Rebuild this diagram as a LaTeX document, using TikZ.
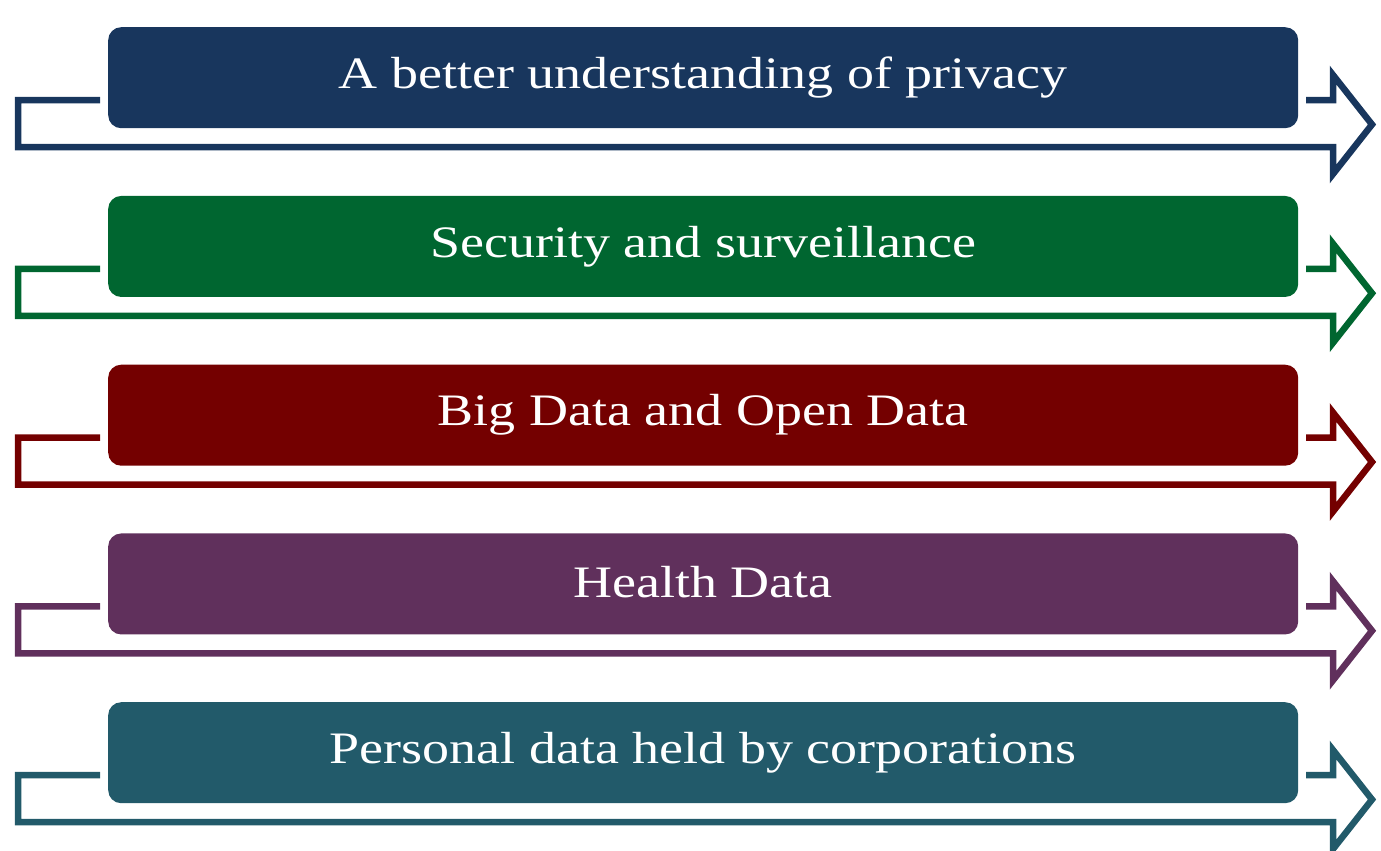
\documentclass[tikz,border=0pt]{standalone}
\usepackage{fontspec}
\setmainfont{Liberation Serif}
\definecolor{cA}{RGB}{24,54,93}
\definecolor{cB}{RGB}{0,102,48}
\definecolor{cC}{RGB}{116,0,0}
\definecolor{cD}{RGB}{96,48,92}
\definecolor{cE}{RGB}{34,90,106}
\tikzset{
  topic/.style={fill=#1, draw=none, rounded corners=13pt, minimum width=1190pt, minimum height=101pt, text=white, font=\fontsize{45}{48}\selectfont, anchor=north west, inner sep=0pt},
  flow/.style={draw=#1, line width=6.5pt, line join=miter, fill=none}
}
\begin{document}
\begin{tikzpicture}[x=1pt,y=-1pt]
\useasboundingbox (0,0) rectangle (1381,851);
\foreach \c/\t [count=\i from 0] in {cA/A better understanding of privacy, cB/Security and surveillance, cC/Big Data and Open Data, cD/Health Data, cE/Personal data held by corporations}{
  \pgfmathsetmacro{\oy}{\i*168.75}
  \begin{scope}[yshift=-\oy pt]
    \draw[flow=\c] (100,100) -- (18,100) -- (18,147) -- (1333,147) -- (1333,174) -- (1372,124.5) -- (1333,75) -- (1333,100) -- (1306,100);
    \node[topic=\c] (box\i) at (108,27) {\raisebox{5pt}{\scalebox{1.2}[1]{\t}}};
  \end{scope}
}
\end{tikzpicture}
\end{document}
